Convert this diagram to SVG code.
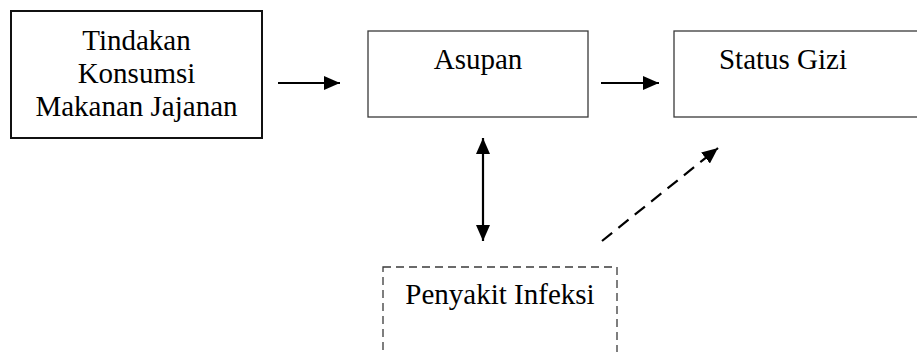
<svg xmlns="http://www.w3.org/2000/svg" width="917" height="352" viewBox="0 0 917 352">
<style>
text{font-family:'Liberation Serif','Times New Roman',Times,serif;font-size:29px;fill:#000;text-anchor:middle}
.box{fill:#fff;stroke:#3a3a3a;stroke-width:1.3}
.thick{stroke:#111;stroke-width:2}
.dash{stroke-dasharray:8,5}
.conn{stroke:#000;stroke-width:2.2;fill:none}
</style>
<defs>
<marker id="ah" viewBox="0 0 16 14" refX="16" refY="7" markerWidth="16" markerHeight="14" markerUnits="userSpaceOnUse" orient="auto-start-reverse">
<path d="M0,0 L16,7 L0,14 Z" fill="#000"/>
</marker>
</defs>
<rect width="917" height="352" fill="#fff"/>
<g id="tindakan">
<rect class="box thick" x="11" y="11" width="251" height="127"/>
<text x="136.5" y="50">Tindakan</text>
<text x="136.5" y="83">Konsumsi</text>
<text x="136.5" y="116">Makanan Jajanan</text>
</g>
<g id="asupan">
<rect class="box" x="368" y="31" width="220" height="86"/>
<text x="478" y="69">Asupan</text>
</g>
<g id="status-gizi">
<rect class="box" x="674" y="31" width="260" height="86"/>
<text x="783" y="69">Status Gizi</text>
</g>
<g id="penyakit-infeksi">
<rect class="box dash" x="383" y="267" width="234" height="100"/>
<text x="500" y="304">Penyakit Infeksi</text>
</g>
<g id="connectors">
<line class="conn" x1="278" y1="83" x2="340" y2="83" marker-end="url(#ah)"/>
<line class="conn" x1="601" y1="83" x2="659" y2="83" marker-end="url(#ah)"/>
<line class="conn" x1="483" y1="138" x2="483" y2="241" marker-start="url(#ah)" marker-end="url(#ah)"/>
<line class="conn" x1="602" y1="241" x2="718" y2="148" stroke-dasharray="13,8" marker-end="url(#ah)"/>
</g>
</svg>
